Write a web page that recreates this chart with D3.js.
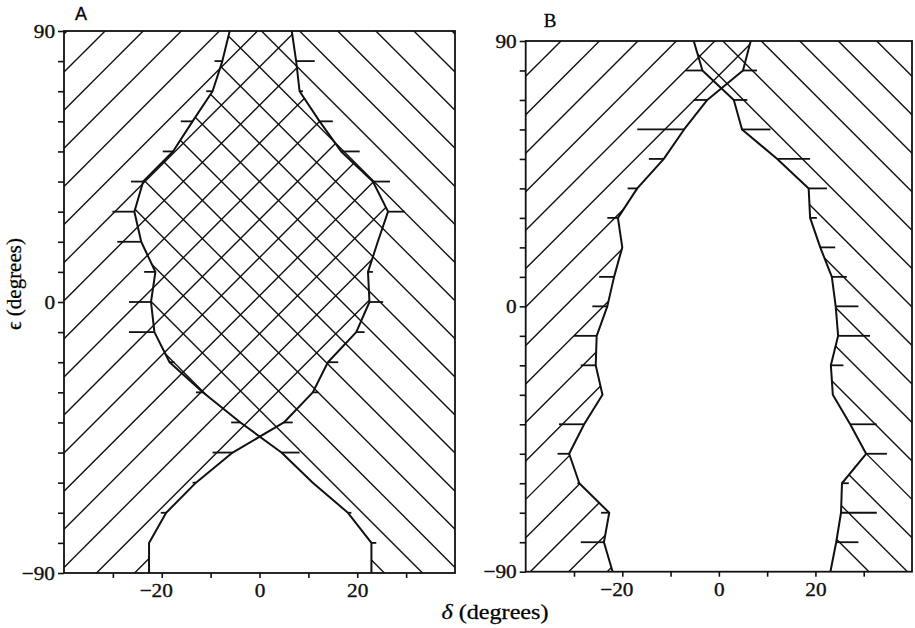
<!DOCTYPE html>
<html><head><meta charset="utf-8">
<script src="https://cdn.jsdelivr.net/npm/d3@7"></script>
<style>
body{margin:0;background:#fff}
svg{display:block}
</style>
</head><body>
<svg id="c" width="915" height="628"></svg>
<script>
// ε levels (degrees)
const eps = [90,80,70,60,50,40,30,20,10,0,-10,-20,-30,-40,-50,-60,-70,-80,-90];

// Panel A: P = right edge of "/" hatched zone, Q = left edge of "\" hatched zone (δ, degrees)
const aP = [6.6,7.5,8.2,12.3,16.7,23.2,26.3,24.2,22.2,22.5,19.8,14.0,10.9,5.0,-5.5,-13.0,-19.1,-22.6,-22.6];
const aQ = [-6.1,-7.6,-9.6,-13.7,-17.7,-23.8,-25.6,-24.2,-21.3,-22.2,-21.5,-18.4,-11.6,-3.9,4.5,10.9,18.1,22.9,22.9];
const aPTick = [null,11.3,8.9,15.0,20.5,26.7,29.7,null,23.2,25.3,21.5,16.1,12.0,6.8,-9.6,-13.7,-20.2,null,null];
const aQTick = [null,-9.2,-10.9,-16.1,-19.8,-26.3,-30.1,-29.1,-23.6,-26.7,-26.7,-17.4,-13.0,-5.8,8.2,null,18.8,23.9,null];

// Panel B
const bP = [6.6,5.0,-2.4,-7.2,-11.4,-16.9,-20.9,-20.0,-21.7,-23.1,-25.3,-25.5,-24.1,-27.9,-31.0,-28.9,-22.7,-23.8,-22.0];
const bQ = [-5.2,-3.4,3.1,4.8,12.1,18.6,18.9,21.0,23.4,24.2,24.7,23.2,23.6,27.2,30.5,25.5,25.3,24.3,23.1];
const bPTick = [null,7.9,-5.2,-16.9,-14.5,-18.9,-23.1,null,-24.8,-26.2,-30.0,-28.6,null,-33.1,-33.4,-29.3,-24.4,-28.6,null];
const bQTick = [null,-6.9,5.9,10.7,18.9,22.4,20.3,24.1,26.5,28.9,31.3,25.8,null,32.7,34.8,26.9,32.7,28.9,null];

// axis ticks
const xTicks = [-30,-20,-10,0,10,20,30];
const xLabels = [-20,0,20];
const yTicks = [90,80,70,60,50,40,30,20,10,0,-10,-20,-30,-40,-50,-60,-70,-80,-90];
const yLabels = [90,0,-90];
const xDomain = [-40,40], yDomain = [-90,90];

const SERIF = "'Liberation Serif', 'Times New Roman', Times, serif";
const svg = d3.select("#c");
const defs = svg.append("defs");
const fmt = d3.format("d");

const panels = [
  {id:"A", P:aP, Q:aQ, PT:aPTick, QT:aQTick, hs:38.1, hoff:2,
   x:d3.scaleLinear(xDomain,[64,455]), y:d3.scaleLinear(yDomain,[573,31])},
  {id:"B", P:bP, Q:bQ, PT:bPTick, QT:bQTick, hs:38.46, hoff:4,
   x:d3.scaleLinear(xDomain,[525.7,912]), y:d3.scaleLinear(yDomain,[571.7,41])}
];

panels.forEach(cfg => {
  const {id,x,y,P,Q,PT,QT,hs,hoff} = cfg;
  const curve = d3.curveLinear;
  const [xl,xr] = x.range();
  const [yb,yt] = y.range();
  const rows = eps.map((e,i)=>({e, p:P[i], q:Q[i], pt:PT[i], qt:QT[i]}));
  const g = svg.append("g");

  const areaL = d3.area().curve(curve).y(d=>y(d.e)).x0(xl).x1(d=>x(d.p));
  const areaR = d3.area().curve(curve).y(d=>y(d.e)).x0(d=>x(d.q)).x1(xr);
  defs.append("clipPath").attr("id","cl"+id).append("path").attr("d",areaL(rows));
  defs.append("clipPath").attr("id","cr"+id).append("path").attr("d",areaR(rows));

  const x0 = x(0);
  const C = x0 - hoff + yt, D = x0 + hoff - yt;
  const ks = d3.range(-30,31);
  g.append("g").attr("clip-path",`url(#cl${id})`)
    .selectAll("line").data(ks).join("line")
    .attr("x1",xl).attr("y1",k=>C+k*hs-xl)
    .attr("x2",xr).attr("y2",k=>C+k*hs-xr)
    .attr("stroke","#111").attr("stroke-width",1.4);
  g.append("g").attr("clip-path",`url(#cr${id})`)
    .selectAll("line").data(ks).join("line")
    .attr("x1",xl).attr("y1",k=>xl-D-k*hs)
    .attr("x2",xr).attr("y2",k=>xr-D-k*hs)
    .attr("stroke","#111").attr("stroke-width",1.4);

  // boundary curves
  const lineP = d3.line().curve(curve).x(d=>x(d.p)).y(d=>y(d.e));
  const lineQ = d3.line().curve(curve).x(d=>x(d.q)).y(d=>y(d.e));
  g.append("path").attr("d",lineP(rows)).attr("fill","none").attr("stroke","#111").attr("stroke-width",2).attr("stroke-linejoin","round");
  g.append("path").attr("d",lineQ(rows)).attr("fill","none").attr("stroke","#111").attr("stroke-width",2).attr("stroke-linejoin","round");

  // error ticks
  const tk = [];
  rows.forEach(r=>{
    if(r.pt!=null) tk.push({e:r.e,a:r.p,b:r.pt});
    if(r.qt!=null) tk.push({e:r.e,a:r.q,b:r.qt});
  });
  g.append("g").selectAll("line").data(tk).join("line")
    .attr("x1",d=>x(d.a)).attr("x2",d=>x(d.b))
    .attr("y1",d=>y(d.e)).attr("y2",d=>y(d.e))
    .attr("stroke","#111").attr("stroke-width",1.8);

  // frame
  g.append("rect").attr("x",xl).attr("y",yt).attr("width",xr-xl).attr("height",yb-yt)
    .attr("fill","none").attr("stroke","#111").attr("stroke-width",1.8);

  // axes
  const ay = g.append("g").attr("transform",`translate(${xl},0)`)
    .call(d3.axisLeft(y).tickValues(yTicks).tickSize(6).tickPadding(3)
      .tickFormat(d=>yLabels.includes(d)?fmt(d):""));
  const ax = g.append("g").attr("transform",`translate(0,${yb})`)
    .call(d3.axisBottom(x).tickValues(xTicks).tickSize(5).tickPadding(6)
      .tickFormat(d=>xLabels.includes(d)?fmt(d):""));
  [ay,ax].forEach(a=>{
    a.attr("font-family",SERIF).attr("font-size",19);
    a.select(".domain").remove();
    a.selectAll(".tick line").attr("stroke","#111").attr("stroke-width",1.6);
    a.selectAll(".tick text")
      .style("font-family",SERIF).style("font-size","19px")
      .attr("fill","#111").attr("stroke","#111").attr("stroke-width",0.35)
      .style("transform-box","fill-box");
  });
  ay.selectAll(".tick text").style("transform-origin","right center").style("transform","scaleX(1.12)");
  ax.selectAll(".tick text").style("transform-origin","center").style("transform","scaleX(1.12)")
    .attr("dx",d=>d<0?-6:0);
});

// panel letters
svg.append("text").attr("x",81).attr("y",20).attr("text-anchor","middle")
  .style("font-family","'Liberation Sans', Arial, sans-serif").style("font-size","18px")
  .attr("stroke","#111").attr("stroke-width",0.3).text("A");
svg.append("text").attr("x",550).attr("y",27).attr("text-anchor","middle")
  .style("font-family",SERIF).style("font-size","19px")
  .attr("stroke","#111").attr("stroke-width",0.3).text("B");

// axis titles
const xt = svg.append("text").attr("x",495).attr("y",619).attr("text-anchor","middle")
  .style("font-family",SERIF).style("font-size","21px")
  .attr("stroke","#111").attr("stroke-width",0.3)
  .style("transform-box","fill-box").style("transform-origin","center").style("transform","scaleX(1.15)");
xt.append("tspan").attr("font-style","italic").text("δ");
xt.append("tspan").text(" (degrees)");
svg.append("text").attr("transform","translate(21,284) rotate(-90)").attr("text-anchor","middle")
  .style("font-family","'Liberation Serif', 'DejaVu Serif', serif").style("font-size","21px")
  .attr("stroke","#111").attr("stroke-width",0.3)
  .text("ϵ (degrees)");
</script>
</body></html>
